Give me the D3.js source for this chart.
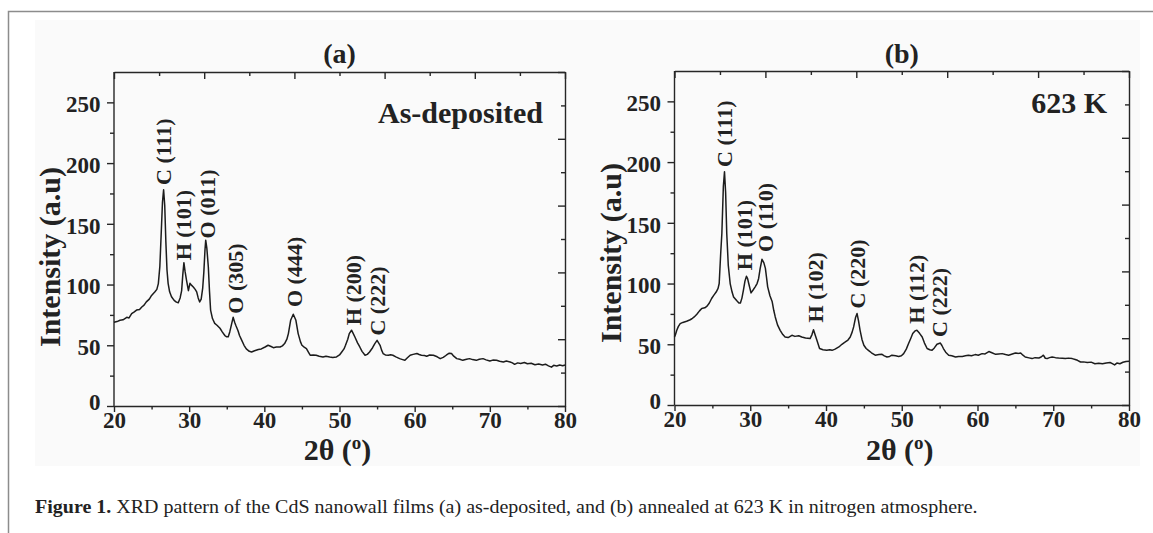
<!DOCTYPE html>
<html lang="en">
<head>
<meta charset="UTF-8">
<title>XRD pattern of CdS nanowall films</title>
<style>
  body { margin: 0; background: #fff; }
  svg { display: block; font-family: "Liberation Serif", "Times New Roman", serif; }
  .axis path, .axis line { fill: none; stroke: #262626; stroke-width: 1.4; }
  .axis text { font-family: "Liberation Serif", "Times New Roman", serif; font-size: 23px; font-weight: bold; fill: #222; }
  .peak { font-size: 22px; font-weight: bold; fill: #222; }
  .title { font-size: 28px; font-weight: bold; fill: #222; }
  .note { font-size: 30px; font-weight: bold; fill: #222; }
  .label { font-size: 30px; font-weight: bold; fill: #222; }
</style>
</head>
<body>
<script src="https://d3js.org/d3.v7.min.js"></script>
<script>
var width = 1153, height = 533;

// tick labels
var xTicks = [20, 30, 40, 50, 60, 70, 80];
var yTicks = [0, 50, 100, 150, 200, 250];

// (a) as-deposited: 2theta (deg) and intensity (a.u)
var angleA = [20.0,20.4,20.8,21.2,21.7,22.0,22.35,22.7,23.0,23.4,23.7,24.0,24.3,24.7,25.0,25.45,25.7,25.9,26.1,26.3,26.45,26.6,26.75,26.9,27.05,27.2,27.4,27.65,28.0,28.3,28.55,28.8,29.0,29.15,29.3,29.45,29.65,29.9,30.1,30.3,30.55,30.8,31.0,31.2,31.4,31.6,31.8,31.95,32.1,32.2,32.35,32.55,32.7,32.85,33.1,33.4,33.7,34.1,34.4,34.75,35.0,35.2,35.4,35.55,35.85,36.05,36.2,36.5,36.7,37.0,37.3,37.6,38.0,38.3,38.7,39.2,39.6,40.1,40.5,40.9,41.2,41.6,42.1,42.4,42.7,43.0,43.2,43.5,43.85,44.2,44.5,44.8,45.0,45.3,45.6,45.9,46.1,46.5,46.9,47.3,47.8,48.2,48.7,49.1,49.6,50.0,50.3,50.6,50.8,51.1,51.3,51.6,51.8,52.05,52.4,52.7,53.0,53.4,53.7,54.0,54.4,54.7,55.0,55.2,55.4,55.6,55.8,56.1,56.5,56.8,57.1,57.5,58.0,58.4,58.7,59.0,59.4,59.8,60.3,60.6,60.9,61.3,61.6,62.0,62.5,63.0,63.4,63.8,64.2,64.6,64.9,65.2,65.6,66.0,66.4,66.9,67.3,67.7,68.2,68.6,69.1,69.5,70.0,70.4,70.9,71.3,71.8,72.2,72.7,73.0,73.3,73.7,74.1,74.6,75.0,75.5,76.0,76.5,77.0,77.4,77.8,78.2,78.5,78.9,79.3,79.7,80.0];
var intensityA = [69,69.5,70.6,71,73,72.5,76,77.5,79,79.5,81.5,83,85.7,88,91,94,96,100.8,115,145,168,178,165,135,112,101,94,90,87,85.5,85,89,95,108,118,111,103.5,95,101,99.5,98,96,94,89,85.7,88,97,110,128,136.5,130,114.5,95,79,72,68,66.5,64,61,58,57,57,61,65,73,69,66.5,62,58,54,50,47,45,44.5,45.5,46.5,47,48.6,50,49,48,48.5,48.6,49.5,51.4,55,59.6,70.6,75.5,70.6,59.6,53,50,48.5,47.3,44,41.8,42,41.8,41,40.4,41,40.4,40,40.4,42,44.5,47,50,55,59.6,62.4,60,56.8,52,48.6,45,41.8,42.5,44.5,48,51.4,54,52,50,46,43.2,42,41.8,42.2,41.8,40.5,39,38.2,37.6,39.5,41.8,42.5,43.2,42.4,41.8,41.5,41,42,41.8,40.5,39,40,41.8,43.5,43.2,41,39,38.5,37.6,38.5,39,38.2,37.6,38.5,39,38,37,37.8,37.6,36.8,36.2,37,36.2,35.5,34.3,35.5,35,35.8,34.8,35.2,34,34.6,33.8,34.4,33,32,33.5,33,33.8,33.2,33.8];

// (b) annealed at 623 K
var angleB = [20.0,20.1,20.3,20.5,20.75,21.1,21.6,22.0,22.3,22.6,22.95,23.3,23.6,24.0,24.3,24.6,24.9,25.2,25.5,25.75,25.9,26.1,26.25,26.45,26.6,26.75,26.9,27.1,27.35,27.6,27.8,28.2,28.5,28.7,28.9,29.1,29.3,29.5,29.65,29.8,30.1,30.35,30.65,30.9,31.1,31.3,31.55,31.8,32.0,32.15,32.3,32.6,32.9,33.1,33.3,33.6,33.95,34.3,34.6,35.0,35.5,35.9,36.4,36.8,37.3,37.6,37.9,38.15,38.35,38.55,38.8,39.15,39.6,40.1,40.5,40.8,41.2,41.7,42.1,42.55,42.9,43.2,43.45,43.65,43.9,44.1,44.3,44.5,44.75,45.0,45.3,45.6,46.0,46.5,47.0,47.4,47.7,48.05,48.4,48.7,49.2,49.6,49.95,50.25,50.6,50.9,51.2,51.45,51.75,52.0,52.35,52.7,53.0,53.35,53.7,54.0,54.3,54.65,55.1,55.3,55.5,55.8,56.2,56.6,57.1,57.5,58.0,58.4,58.8,59.2,59.7,60.1,60.6,61.0,61.5,61.9,62.4,62.8,63.25,63.7,64.1,64.6,65.0,65.4,65.7,66.0,66.3,66.8,67.2,67.6,68.1,68.4,68.7,68.95,69.2,69.5,69.85,70.3,70.7,71.2,71.6,72.0,72.5,72.9,73.2,73.6,74.0,74.5,75.0,75.5,76.0,76.5,77.0,77.5,77.8,78.1,78.4,78.8,79.2,79.6,80.0];
var intensityB = [56,57.4,61.5,64.5,67,68,69,70,71,72.5,74.7,77.5,79.5,80,81.4,84,87.7,90.5,93,96,100,125,141,180,192,175,141,115,100,93,89,86,84,84,88,94.6,102,106,104,100,92.3,94.5,97.3,100,104,112,120,117,112.5,105,97.3,90,85,78,72.5,66,61.5,58,56,55.5,57.4,56.5,57,56,55.2,55,54.7,58,62,58,53.3,46.5,45.5,45,45.5,45,46,47.8,50,51.9,53.5,56,60,64.3,72,75.3,69,61.5,54,49.2,46.5,45,43,41,41.5,41.7,40.5,39.5,40,41,40.5,40,40.5,42.3,46,50.6,55,58.8,61,61.6,59,56,51,46.5,45.5,45,47,50,51,49,46.5,43.5,41,40.5,39.5,40,40,40.5,41,40.5,41.5,41,42.3,42,44,43,41.7,42,42.3,41.5,41,42,42.8,42.5,42.8,41,39.5,38.8,38.2,39,38.7,39.5,41,38.5,38.2,39,39.5,39,38.7,38.5,38.2,38.6,38.2,37.5,36.8,35.4,35.5,35,35.3,34,34.4,34,34.6,35,34,33,34.5,34,35.2,35.8,36];

// peak labels: text, 2theta, intensity where the label starts
var peakNamesA = ['C (111)', 'H (101)', 'O (011)', 'O (305)', 'O (444)', 'H (200)', 'C (222)'];
var peakAnglesA = [26.6, 29.25, 32.4, 36.15, 44.0, 51.8, 55.0];
var peakLevelsA = [182, 120, 138, 76, 81.5, 66.5, 58];

var peakNamesB = ['C (111)', 'H (101)', 'O (110)', 'H (102)', 'C (220)', 'H (112)', 'C (222)'];
var peakAnglesB = [26.55, 29.3, 32.0, 38.6, 44.2, 51.9, 55.0];
var peakLevelsB = [196, 111, 126, 68, 79.5, 67, 56];

var svg = d3.select('body').append('svg')
  .attr('width', width)
  .attr('height', height);

// page frame and scanned figure background
svg.append('rect').attr('x', 35).attr('y', 20).attr('width', 1105).attr('height', 446).attr('fill', '#fafafa');
svg.append('path').attr('d', 'M8.5,533V11.5H1153').attr('fill', 'none').attr('stroke', '#8c8c8c').attr('stroke-width', 1.5);

var panels = [
  { left: 114, right: 565, top: 72, bottom: 406, title: '(a)', note: 'As-deposited', noteY: 123,
    ylabX: 60, ylabY: 257, angles: angleA, values: intensityA,
    names: peakNamesA, peakAngles: peakAnglesA, peakLevels: peakLevelsA },
  { left: 674.5, right: 1129, top: 71, bottom: 405, title: '(b)', note: '623 K', noteY: 113,
    ylabX: 621, ylabY: 253, angles: angleB, values: intensityB,
    names: peakNamesB, peakAngles: peakAnglesB, peakLevels: peakLevelsB }
];

panels.forEach(function(p) {
  var x = d3.scaleLinear().domain([20, 80]).range([p.left, p.right]);
  var y = d3.scaleLinear().domain([0, 275]).range([p.bottom, p.top]);
  var frame = d3.scaleLinear().domain([0, 10]);
  var g = svg.append('g');

  // bottom axis, labelled every 10, minor every 5
  var bx = g.append('g').attr('class', 'axis')
    .attr('transform', 'translate(0,' + p.bottom + ')')
    .call(d3.axisBottom(x).tickValues(d3.range(20, 81, 5)).tickSizeOuter(0)
      .tickFormat(function(d) { return xTicks.indexOf(d) >= 0 ? d : ''; }));
  bx.selectAll('.tick line').attr('y2', function(d) { return d % 10 === 0 ? 6 : 3.5; });
  bx.selectAll('.tick text').attr('y', 5.5);

  // left axis
  var ly = g.append('g').attr('class', 'axis')
    .attr('transform', 'translate(' + p.left + ',0)')
    .call(d3.axisLeft(y).tickValues(d3.range(0, 251, 25)).tickSizeOuter(0)
      .tickFormat(function(d) { return yTicks.indexOf(d) >= 0 ? d : ''; }));
  ly.select('.domain').attr('d', 'M0,' + p.bottom + 'V' + p.top);
  ly.selectAll('.tick line').attr('x2', function(d) { return d % 50 === 0 ? -7 : -4; });
  ly.selectAll('.tick text').attr('x', -13.5).attr('dy', function(d) { return d === 0 ? '0.17em' : '0.4em'; });

  // top frame axis, ticks inside
  var tx = g.append('g').attr('class', 'axis')
    .attr('transform', 'translate(0,' + p.top + ')')
    .call(d3.axisBottom(frame.copy().range([p.left, p.right])).ticks(10).tickSizeOuter(0).tickFormat(''));
  tx.selectAll('.tick line').attr('y2', function(d) { return d % 2 === 0 ? 7 : 4; });

  // right frame axis, ticks inside
  var ry = g.append('g').attr('class', 'axis')
    .attr('transform', 'translate(' + p.right + ',0)')
    .call(d3.axisLeft(frame.copy().range([p.bottom, p.top])).ticks(10).tickSizeOuter(0).tickFormat(''));
  ry.selectAll('.tick line').attr('x2', function(d) { return d % 2 === 0 ? -7 : -4; });

  // pattern
  var line = d3.line().x(function(d) { return x(d[0]); }).y(function(d) { return y(d[1]); });
  g.append('path')
    .datum(d3.zip(p.angles, p.values))
    .attr('d', line)
    .attr('fill', 'none')
    .attr('stroke', '#1c1c1c')
    .attr('stroke-width', 1.5)
    .attr('stroke-linejoin', 'round');

  // peak labels
  g.selectAll('.peak')
    .data(d3.zip(p.names, p.peakAngles, p.peakLevels))
    .enter().append('text')
    .attr('class', 'peak')
    .attr('transform', function(d) { return 'translate(' + (x(d[1]) + 7.5) + ',' + y(d[2]) + ') rotate(-90)'; })
    .text(function(d) { return d[0]; });

  // titles
  g.append('text').attr('class', 'title')
    .attr('x', (p.left + p.right) / 2).attr('y', 63)
    .attr('text-anchor', 'middle').text(p.title);
  g.append('text').attr('class', 'note')
    .attr('x', p.right - 22).attr('y', p.noteY)
    .attr('text-anchor', 'end').text(p.note);

  var xl = g.append('text').attr('class', 'label')
    .attr('x', (p.left + p.right) / 2 - 2).attr('y', 460)
    .attr('text-anchor', 'middle');
  xl.append('tspan').text('2θ (');
  xl.append('tspan').attr('font-size', '19px').attr('dy', -11).text('o');
  xl.append('tspan').attr('dy', 11).text(')');

  g.append('text').attr('class', 'label')
    .attr('transform', 'translate(' + p.ylabX + ',' + p.ylabY + ') rotate(-90)')
    .attr('text-anchor', 'middle')
    .text('Intensity (a.u)');
});

// caption, stretched to the width it has in the figure
var cap = svg.append('text')
  .attr('x', 35).attr('y', 513)
  .attr('font-size', '19px')
  .attr('fill', '#222');
cap.append('tspan').attr('font-weight', 'bold').text('Figure 1.');
cap.append('tspan').text(' XRD pattern of the CdS nanowall films (a) as-deposited, and (b) annealed at 623 K in nitrogen atmosphere.');
var capW = cap.node().getComputedTextLength();
cap.attr('transform', 'translate(35,0) scale(' + (943 / capW) + ',1) translate(-35,0)');
</script>
</body>
</html>
